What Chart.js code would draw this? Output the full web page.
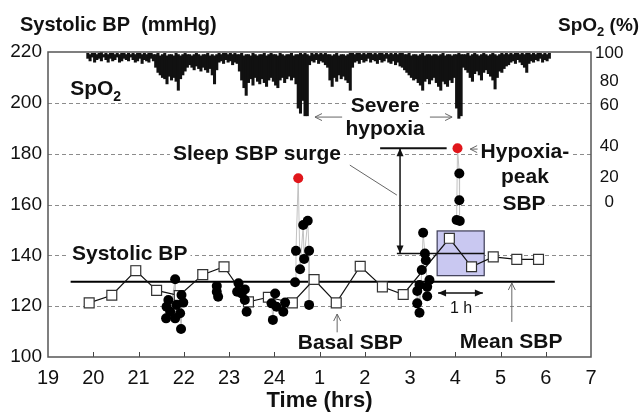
<!DOCTYPE html>
<html>
<head>
<meta charset="utf-8">
<script src="https://cdn.jsdelivr.net/npm/chart.js@4.4.1/dist/chart.umd.min.js"></script>
<style>
  html, body { margin: 0; padding: 0; background: #fff; }
  #wrap { width: 643px; height: 414px; }
</style>
</head>
<body>
<div id="wrap"><canvas id="c"></canvas></div>
<script>
(function () {
    "use strict";

    // --- Data -----------------------------------------------------------
    // Time is kept as continuous clock hours: 24.5 = 00:30, 28 = 04:00.

    // SpO2 trace, one sample every 0.05 h from 19.88 h: lowest and highest % in each sample
    const spo2Start = 19.88;
    const spo2Step = 0.05;
    const spo2Dip = [
        95, 93, 96, 92, 94, 95, 93, 96, 94, 92, 95, 93, 94, 96, 92, 93, 95, 94, 93, 96,
        94, 92, 93, 95, 91, 94, 93, 92, 95, 93,
        88, 84, 82, 80, 79, 75, 81, 78, 80, 77, 70, 79, 82, 85, 88,
        90, 88, 86, 89, 87, 85, 88, 86, 84, 87,
        82, 75, 86,
        92, 93, 91, 94, 92, 93, 90, 92, 91,
        85, 78, 72, 66, 76, 79, 74, 80, 77, 75, 79, 76, 73, 78, 80, 77,
        74, 72, 78, 80, 76, 79, 81, 78, 80, 75,
        56, 52, 62, 50, 50, 90,
        93, 92, 94, 91, 93, 92, 90, 88,
        78, 73, 80, 77, 82, 79, 81, 78, 76, 70,
        88, 92, 93, 91, 94, 92, 93, 95, 92, 94, 93, 91, 94, 92, 93, 95, 92, 91, 93, 90,
        92, 89,
        88, 86, 84, 82, 80, 78, 79, 76, 74, 70, 77, 79, 75, 78, 80, 76, 73, 70, 77, 75,
        73, 78, 76, 80,
        56, 48, 50, 88,
        86, 84, 80, 77, 83, 85, 82, 78, 84, 86, 83, 81, 78, 71, 80, 85, 84, 87, 89, 90,
        92, 93, 91, 94, 92, 90, 88, 84, 91, 93, 92, 94, 93, 95, 92, 94, 93, 95
    ];
    const spo2Top = [
        99, 98, 99, 99, 98, 99, 100, 98, 99, 98, 99, 99, 98, 99, 98, 99, 99, 98, 99, 98,
        99, 98, 99, 99, 98, 99, 98, 99, 99, 98,
        98, 99, 97, 98, 99, 97, 98, 98, 97, 99, 98, 97, 98, 99, 98,
        98, 97, 98, 99, 98, 97, 98, 98, 99, 97,
        98, 97, 98,
        99, 98, 99, 99, 98, 99, 98, 99, 98,
        98, 99, 97, 98, 98, 97, 99, 98, 97, 98, 98, 99, 97, 98, 99, 98,
        98, 97, 99, 98, 97, 98, 98, 99, 97, 98,
        98, 99, 98, 99, 98, 97,
        99, 98, 99, 98, 99, 98, 99, 98,
        98, 97, 98, 99, 97, 98, 98, 97, 98, 99,
        99, 98, 99, 99, 98, 99, 98, 99, 99, 98, 99, 98, 99, 99, 98, 99, 98, 99, 98, 99,
        98, 99,
        99, 98, 98, 99, 97, 98, 98, 97, 98, 99, 97, 98, 98, 97, 98, 98, 97, 98, 99, 97,
        98, 98, 97, 98,
        98, 99, 98, 98,
        98, 99, 97, 98, 99, 98, 97, 98, 99, 98, 97, 98, 99, 98, 97, 98, 99, 98, 99, 98,
        99, 98, 99, 99, 98, 99, 98, 99, 99, 98, 99, 98, 99, 99, 98, 99, 98, 99
    ];

    // right-hand SpO2 labels and where they sit on the trace axis
    const spo2TickLabels = [100, 80, 60, 40, 20, 0];
    const spo2TickAt = [99, 77, 58, 26, 2, -18];

    // beat-to-beat SBP readings [time, mmHg], grouped by episode
    const sbpReadings = [
        [[21.61, 115.2], [21.62, 119.8], [21.66, 122.4], [21.70, 117.8], [21.81, 130.6], [21.81, 115.2],
         [21.84, 120.5], [21.92, 117.2], [21.94, 111.0], [21.95, 124.4], [21.99, 121.4]],
        [[22.73, 127.9], [22.73, 125.7], [22.76, 123.7]],
        [[23.18, 125.7], [23.21, 129.0], [23.28, 125.0], [23.35, 126.6], [23.35, 122.4], [23.39, 117.8]],
        [[23.94, 121.1], [23.97, 114.6], [24.02, 125.0], [24.05, 119.8], [24.20, 117.8], [24.24, 121.4]],
        [[24.46, 129.4], [24.48, 141.8], [24.57, 134.5], [24.64, 151.9], [24.66, 138.6], [24.74, 153.6],
         [24.77, 141.8], [24.77, 120.5]],
        [[27.16, 126.0], [27.16, 121.1], [27.21, 128.3], [27.21, 117.4], [27.26, 134.2], [27.29, 148.9],
         [27.33, 140.7], [27.35, 138.1], [27.38, 127.6], [27.38, 123.9], [27.43, 130.3]],
        [[28.03, 153.9], [28.09, 172.2], [28.09, 161.7], [28.10, 153.5]]
    ];
    // peak SBP of the surge and of the hypoxia episode
    const sbpPeaks = [[24.53, 170.3], [28.05, 182.1]];

    // half-hourly SBP (open squares)
    const sqTime = [19.91, 20.41, 20.94, 21.40, 21.90, 22.42, 22.89, 23.43, 23.87, 24.40,
                    24.88, 25.37, 25.90, 26.39, 26.85, 27.87, 28.36, 28.84, 29.36, 29.84];
    const sqSbp  = [121.3, 124.3, 134.0, 126.2, 124.2, 132.4, 135.5, 121.7, 123.5, 121.3,
                    130.5, 121.3, 135.7, 127.6, 124.6, 146.7, 135.5, 139.4, 138.4, 138.4];

    const meanSbp = 129.6;           // whole-night mean SBP
    const meanSpan = [19.5, 30.2];
    const preSurgeSbp = 140.7;       // SBP just before the hypoxia surge
    const preSurgeSpan = [26.71, 28.64];
    const peakLevelSpan = [26.34, 27.81];

    // --- Annotation layout ---------------------------------------------
    const FONT = '"Liberation Sans", Arial, Helvetica, sans-serif';
    const hypoxiaBox = { x0: 27.60, x1: 28.64, y0: 132.0, y1: 149.6 };

    const notes = [
        { t: [["Sleep SBP surge"]], x: 21.76, y: 177.5, align: "left" },
        { t: [["Severe"]], x: 26.45, y: 196.4, align: "center" },
        { t: [["hypoxia"]], x: 26.45, y: 187.3, align: "center" },
        { t: [["Hypoxia-"]], x: 29.54, y: 178.3, align: "center" },
        { t: [["peak"]], x: 29.54, y: 168.5, align: "center" },
        { t: [["SBP"]], x: 29.52, y: 157.8, align: "center" },
        { t: [["Systolic BP"]], x: 19.53, y: 138.2, align: "left" },
        { t: [["Basal SBP"]], x: 24.52, y: 103.1, align: "left" },
        { t: [["Mean SBP"]], x: 28.10, y: 103.5, align: "left" },
        { t: [["SpO"], ["2", 1]], x: 19.49, y: 203.1, align: "left" },
        { t: [["1 h"]], x: 28.13, y: 117.3, align: "center", size: 16, bold: false }
    ];

    const arrows = [
        { from: [25.50, 194.4], to: [24.90, 194.4], kind: "open" },
        { from: [27.44, 194.4], to: [27.93, 194.4], kind: "open" },
        { from: [28.55, 181.8], to: [28.33, 181.8], kind: "open" },
        { from: [25.39, 108.3], to: [25.39, 116.9], kind: "open" },
        { from: [29.25, 113.8], to: [29.25, 129.1], kind: "open" },
        { from: [25.67, 175.5], to: [26.71, 163.7], kind: "line" },
        { from: [26.78, 182.1], to: [26.78, 140.7], kind: "double" },
        { from: [27.62, 125.2], to: [28.61, 125.2], kind: "double" }
    ];

    // --- Helpers --------------------------------------------------------
    function setFont(ctx, size, bold) {
        ctx.font = (bold ? "bold " : "") + size + "px " + FONT;
    }

    // parts: [[text, isSubscript], ...]
    function drawText(ctx, parts, x, y, opt) {
        const size = opt.size || 21;
        const bold = opt.bold !== false;
        const subSize = Math.round(size * 0.66);
        let w = 0;
        parts.forEach(p => {
            setFont(ctx, p[1] ? subSize : size, bold);
            w += ctx.measureText(p[0]).width;
        });
        let left = opt.align === "center" ? x - w / 2 : (opt.align === "right" ? x - w : x);
        if (opt.bg) {
            ctx.fillStyle = "#fff";
            ctx.fillRect(left - 3, y - size * 0.8, w + 6, size * 1.05);
        }
        ctx.fillStyle = "#111";
        ctx.textAlign = "left";
        ctx.textBaseline = "alphabetic";
        parts.forEach(p => {
            setFont(ctx, p[1] ? subSize : size, bold);
            ctx.fillText(p[0], left, y + (p[1] ? size * 0.28 : 0));
            left += ctx.measureText(p[0]).width;
        });
    }

    function head(ctx, x0, y0, x1, y1, len, half, filled) {
        const a = Math.atan2(y1 - y0, x1 - x0);
        const bx = x1 - len * Math.cos(a), by = y1 - len * Math.sin(a);
        const nx = -Math.sin(a) * half, ny = Math.cos(a) * half;
        ctx.beginPath();
        ctx.moveTo(bx + nx, by + ny);
        ctx.lineTo(x1, y1);
        ctx.lineTo(bx - nx, by - ny);
        if (filled) { ctx.closePath(); ctx.fill(); } else { ctx.stroke(); }
    }

    // --- Plugin: grid, box, notes, frame -------------------------------
    const notesPlugin = {
        id: "notes",
        beforeDatasetsDraw(chart) {
            const { ctx, chartArea: a, scales: { x, y } } = chart;
            ctx.save();
            ctx.strokeStyle = "#8c8c8c";
            ctx.lineWidth = 1;
            ctx.setLineDash([4, 3]);
            y.ticks.filter(t => t.value > y.min && t.value < y.max).forEach(t => {
                const py = Math.round(y.getPixelForValue(t.value)) + 0.5;
                ctx.beginPath();
                ctx.moveTo(a.left, py);
                ctx.lineTo(a.right, py);
                ctx.stroke();
            });
            ctx.setLineDash([]);
            const bx0 = x.getPixelForValue(hypoxiaBox.x0), bx1 = x.getPixelForValue(hypoxiaBox.x1);
            const by0 = y.getPixelForValue(hypoxiaBox.y1), by1 = y.getPixelForValue(hypoxiaBox.y0);
            ctx.fillStyle = "#c9c8f1";
            ctx.fillRect(bx0, by0, bx1 - bx0, by1 - by0);
            ctx.strokeStyle = "#3c3c55";
            ctx.lineWidth = 1.2;
            ctx.strokeRect(bx0, by0, bx1 - bx0, by1 - by0);
            ctx.restore();
        },
        afterDatasetsDraw(chart) {
            const { ctx, chartArea: a, scales: { x, y } } = chart;
            ctx.save();

            arrows.forEach(ar => {
                const x0 = x.getPixelForValue(ar.from[0]), y0 = y.getPixelForValue(ar.from[1]);
                const x1 = x.getPixelForValue(ar.to[0]), y1 = y.getPixelForValue(ar.to[1]);
                if (ar.kind === "double") {
                    ctx.strokeStyle = "#111";
                    ctx.fillStyle = "#111";
                    ctx.lineWidth = 1.5;
                } else {
                    ctx.strokeStyle = "#666";
                    ctx.lineWidth = 1;
                }
                ctx.beginPath();
                ctx.moveTo(x0, y0);
                ctx.lineTo(x1, y1);
                ctx.stroke();
                if (ar.kind === "open") head(ctx, x0, y0, x1, y1, 7, 3.5, false);
                if (ar.kind === "double") {
                    head(ctx, x0, y0, x1, y1, 8, 3.5, true);
                    head(ctx, x1, y1, x0, y0, 8, 3.5, true);
                }
            });

            notes.forEach(n => {
                drawText(ctx, n.t, x.getPixelForValue(n.x), y.getPixelForValue(n.y),
                    { align: n.align, size: n.size, bold: n.bold, bg: true });
            });

            // inward tick marks on the time axis
            ctx.strokeStyle = "#444";
            ctx.lineWidth = 1;
            x.ticks.forEach(t => {
                if (t.value <= x.min || t.value >= x.max) return;
                const px = Math.round(x.getPixelForValue(t.value)) + 0.5;
                ctx.beginPath();
                ctx.moveTo(px, a.bottom);
                ctx.lineTo(px, a.bottom - 5);
                ctx.stroke();
            });

            ctx.strokeStyle = "#555";
            ctx.lineWidth = 1.5;
            ctx.strokeRect(a.left, a.top, a.right - a.left, a.bottom - a.top);
            ctx.restore();
        },
        afterDraw(chart) {
            const ctx = chart.ctx;
            ctx.save();
            drawText(ctx, [["Systolic BP  (mmHg)"]], 20, 31, { size: 20 });
            drawText(ctx, [["SpO"], ["2", 1], [" (%)"]], 558, 31, { size: 19 });
            ctx.restore();
        }
    };

    // --- Datasets -------------------------------------------------------
    const spo2Data = spo2Dip.map((d, i) => ({ x: spo2Start + i * spo2Step, y: [d, spo2Top[i]] }));

    const readingPts = [];
    const linkPts = [];
    sbpReadings.forEach(group => {
        group.forEach(p => readingPts.push({ x: p[0], y: p[1] }));
        const t0 = group[0][0] - 0.1, t1 = group[group.length - 1][0] + 0.1;
        const pts = group.concat(sbpPeaks.filter(p => p[0] >= t0 && p[0] <= t1))
            .sort((a, b) => a[0] - b[0]);
        pts.forEach(p => linkPts.push({ x: p[0], y: p[1] }));
        linkPts.push({ x: pts[pts.length - 1][0] + 0.01, y: null });
    });

    new Chart(document.getElementById("c"), {
        data: {
            datasets: [
                {
                    type: "bar", label: "SpO2", yAxisID: "ySpo2",
                    data: spo2Data, backgroundColor: "#111", barThickness: 2.4, order: 10
                },
                {
                    type: "line", label: "Mean SBP",
                    data: meanSpan.map(t => ({ x: t, y: meanSbp })),
                    borderColor: "#000", borderWidth: 2, pointRadius: 0, order: 9
                },
                {
                    type: "line", label: "Pre-surge SBP",
                    data: preSurgeSpan.map(t => ({ x: t, y: preSurgeSbp })),
                    borderColor: "#111", borderWidth: 1.5, pointRadius: 0, order: 9
                },
                {
                    type: "line", label: "Peak level",
                    data: peakLevelSpan.map(t => ({ x: t, y: sbpPeaks[1][1] })),
                    borderColor: "#111", borderWidth: 2, pointRadius: 0, order: 9
                },
                {
                    type: "line", label: "link",
                    data: linkPts, borderColor: "#c2c2c2", borderWidth: 1,
                    pointRadius: 0, spanGaps: false, order: 8
                },
                {
                    type: "line", label: "Half-hourly SBP",
                    data: sqTime.map((t, i) => ({ x: t, y: sqSbp[i] })),
                    borderColor: "#111", borderWidth: 1.2,
                    pointStyle: "rect", pointRadius: 7,
                    pointBackgroundColor: "#fff", pointBorderColor: "#333", pointBorderWidth: 1.2,
                    order: 7
                },
                {
                    type: "scatter", label: "SBP",
                    data: readingPts, pointRadius: 5, backgroundColor: "#000", borderWidth: 0, order: 5
                },
                {
                    type: "scatter", label: "Peak SBP",
                    data: sbpPeaks.map(p => ({ x: p[0], y: p[1] })),
                    pointRadius: 5, backgroundColor: "#e0161b", borderWidth: 0, order: 4
                }
            ]
        },
        options: {
            responsive: true,
            maintainAspectRatio: false,
            animation: false,
            events: [],
            layout: { padding: { top: 52, right: 0, bottom: 0, left: 0 } },
            scales: {
                x: {
                    type: "linear", min: 19, max: 31, offset: false,
                    ticks: {
                        stepSize: 1, autoSkip: false, maxRotation: 0, padding: 9, color: "#111",
                        font: { family: FONT, size: 20 },
                        callback: v => (v > 24 ? v - 24 : v)
                    },
                    grid: { display: false, drawTicks: false },
                    border: { display: false },
                    title: {
                        display: true, text: "Time (hrs)", color: "#111",
                        font: { family: FONT, size: 22, weight: "bold" },
                        padding: { top: 0, bottom: 0 }
                    },
                    afterFit: s => { s.height = 57; }
                },
                y: {
                    type: "linear", position: "left", min: 100, max: 220,
                    ticks: { stepSize: 20, padding: 6, color: "#111", font: { family: FONT, size: 19 } },
                    grid: { display: false, drawTicks: false },
                    border: { display: false },
                    afterFit: s => { s.width = 48; }
                },
                ySpo2: {
                    type: "linear", position: "right", min: -139, max: 100,
                    afterBuildTicks: s => { s.ticks = spo2TickAt.map(v => ({ value: v })); },
                    ticks: {
                        autoSkip: false, padding: 4, crossAlign: "center", color: "#111",
                        font: { family: FONT, size: 17 },
                        callback: (v, i) => spo2TickLabels[i]
                    },
                    grid: { display: false, drawTicks: false },
                    border: { display: false },
                    afterFit: s => { s.width = 52; }
                }
            },
            plugins: {
                legend: { display: false },
                tooltip: { enabled: false }
            }
        },
        plugins: [notesPlugin]
    });
})();
</script>
</body>
</html>
